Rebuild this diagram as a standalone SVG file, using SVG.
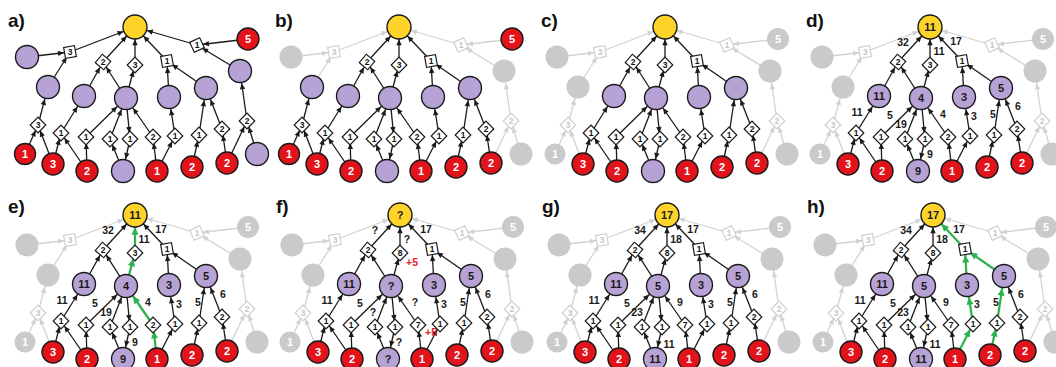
<svg xmlns="http://www.w3.org/2000/svg" width="1056" height="367" viewBox="0 0 1056 367">
<defs>
<style>
text{font-family:"Liberation Sans",Arial,sans-serif}
.pl{font-size:19px;font-weight:bold;fill:#111}
.tw{font-size:11px;font-weight:bold;fill:#fff;text-anchor:middle}
.tk{font-size:11px;font-weight:bold;fill:#1a1a1a;text-anchor:middle}
.td{font-size:8.5px;font-weight:bold;fill:#111;text-anchor:middle}
.tg{font-size:8.5px;font-weight:bold;fill:#c6c6c6;text-anchor:middle}
.lb{font-size:10.5px;font-weight:bold;fill:#1a1a1a;text-anchor:middle}
.lr{font-size:10.5px;font-weight:bold;fill:#e8202a;text-anchor:middle}
.y{fill:#ffd42a;stroke:#1a1a1a;stroke-width:1.4}
.p{fill:#b7a2d6;stroke:#1a1a1a;stroke-width:1.4}
.r{fill:#e2131b;stroke:#1a1a1a;stroke-width:1.4}
.x{fill:#cacaca}
.dk{fill:#fff;stroke:#1a1a1a;stroke-width:1.2}
.dg{fill:#fff;stroke:#cfcfcf;stroke-width:1.2}
.kc,.kd{stroke:#1a1a1a;stroke-width:1.3}
.gc,.gd{stroke:#d2d2d2;stroke-width:1.3}
.vc,.vd{stroke:#2bb24c;stroke-width:2.2}
.kc{marker-end:url(#mkc)}.kd{marker-end:url(#mkd)}
.gc{marker-end:url(#mgc)}.gd{marker-end:url(#mgd)}
.vc{marker-end:url(#mvc)}.vd{marker-end:url(#mvd)}
</style>
<marker id="mkc" viewBox="-20 -4 20 8" refX="0" refY="0" markerWidth="20" markerHeight="8" markerUnits="userSpaceOnUse" orient="auto"><path d="M-18.3,-2.7L-12.3,0L-18.3,2.7z" fill="#1a1a1a"/></marker>
<marker id="mkd" viewBox="-14 -4 14 8" refX="0" refY="0" markerWidth="14" markerHeight="8" markerUnits="userSpaceOnUse" orient="auto"><path d="M-12,-2.7L-6,0L-12,2.7z" fill="#1a1a1a"/></marker>
<marker id="mgc" viewBox="-20 -4 20 8" refX="0" refY="0" markerWidth="20" markerHeight="8" markerUnits="userSpaceOnUse" orient="auto"><path d="M-18.3,-2.7L-12.3,0L-18.3,2.7z" fill="#d2d2d2"/></marker>
<marker id="mgd" viewBox="-14 -4 14 8" refX="0" refY="0" markerWidth="14" markerHeight="8" markerUnits="userSpaceOnUse" orient="auto"><path d="M-12,-2.7L-6,0L-12,2.7z" fill="#d2d2d2"/></marker>
<marker id="mvc" viewBox="-21 -5 21 10" refX="0" refY="0" markerWidth="21" markerHeight="10" markerUnits="userSpaceOnUse" orient="auto"><path d="M-19.8,-3.5L-12.3,0L-19.8,3.5z" fill="#2bb24c"/></marker>
<marker id="mvd" viewBox="-15 -5 15 10" refX="0" refY="0" markerWidth="15" markerHeight="10" markerUnits="userSpaceOnUse" orient="auto"><path d="M-13.5,-3.5L-6,0L-13.5,3.5z" fill="#2bb24c"/></marker>
</defs>
<rect width="1056" height="367" fill="#fff"/>

<!-- PANEL A -->
<g id="panel-a" transform="translate(0,0)">
<text class="pl" x="8" y="27">a)</text>
<g id="a-connectors">
<line class="kd" x1="27" y1="57" x2="70" y2="52"/>
<line class="kd" x1="48" y1="87" x2="70" y2="52"/>
<line class="kc" x1="70" y1="52" x2="135" y2="27"/>
<line class="kd" x1="84" y1="96" x2="103" y2="62"/>
<line class="kd" x1="126" y1="98" x2="103" y2="62"/>
<line class="kc" x1="103" y1="62" x2="135" y2="27"/>
<line class="kd" x1="126" y1="98" x2="135" y2="65"/>
<line class="kc" x1="135" y1="65" x2="135" y2="27"/>
<line class="kd" x1="169" y1="97" x2="167" y2="61"/>
<line class="kd" x1="206" y1="88" x2="167" y2="61"/>
<line class="kc" x1="167" y1="61" x2="135" y2="27"/>
<line class="kd" x1="248" y1="39" x2="197" y2="45"/>
<line class="kd" x1="240" y1="71" x2="197" y2="45"/>
<line class="kc" x1="197" y1="45" x2="135" y2="27"/>
<line class="kd" x1="25" y1="154" x2="38" y2="125"/>
<line class="kd" x1="53" y1="164" x2="38" y2="125"/>
<line class="kc" x1="38" y1="125" x2="48" y2="87"/>
<line class="kd" x1="53" y1="164" x2="61" y2="133"/>
<line class="kd" x1="87" y1="171" x2="61" y2="133"/>
<line class="kc" x1="61" y1="133" x2="84" y2="96"/>
<line class="kd" x1="87" y1="171" x2="86" y2="137"/>
<line class="kc" x1="86" y1="137" x2="126" y2="98"/>
<line class="kd" x1="123" y1="171" x2="110" y2="139"/>
<line class="kc" x1="110" y1="139" x2="126" y2="98"/>
<line class="kd" x1="126" y1="98" x2="130" y2="139"/>
<line class="kc" x1="130" y1="139" x2="123" y2="171"/>
<line class="kd" x1="157" y1="171" x2="153" y2="137"/>
<line class="kc" x1="153" y1="137" x2="126" y2="98"/>
<line class="kd" x1="157" y1="171" x2="175" y2="136"/>
<line class="kc" x1="175" y1="136" x2="169" y2="97"/>
<line class="kd" x1="192" y1="167" x2="199" y2="135"/>
<line class="kc" x1="199" y1="135" x2="206" y2="88"/>
<line class="kd" x1="227" y1="163" x2="222" y2="129"/>
<line class="kc" x1="222" y1="129" x2="206" y2="88"/>
<line class="kd" x1="227" y1="163" x2="247" y2="121"/>
<line class="kd" x1="257" y1="154" x2="247" y2="121"/>
<line class="kc" x1="247" y1="121" x2="240" y2="71"/>
</g>
<g id="a-Y"><circle class="y" cx="135" cy="27" r="12"/></g>
<g id="a-P1"><circle class="p" cx="27" cy="57" r="11.5"/></g>
<g id="a-P2"><circle class="p" cx="48" cy="87" r="11.5"/></g>
<g id="a-P3"><circle class="p" cx="84" cy="96" r="11.5"/></g>
<g id="a-P4"><circle class="p" cx="126" cy="98" r="11.5"/></g>
<g id="a-P5"><circle class="p" cx="169" cy="97" r="11.5"/></g>
<g id="a-P6"><circle class="p" cx="206" cy="88" r="11.5"/></g>
<g id="a-P7"><circle class="p" cx="240" cy="71" r="11.5"/></g>
<g id="a-R5"><circle class="r" cx="248" cy="39" r="11"/><text class="tw" x="248" y="43">5</text></g>
<g id="a-B1"><circle class="r" cx="25" cy="154" r="10.5"/><text class="tw" x="25" y="158">1</text></g>
<g id="a-B2"><circle class="r" cx="53" cy="164" r="11"/><text class="tw" x="53" y="168">3</text></g>
<g id="a-B3"><circle class="r" cx="87" cy="171" r="11"/><text class="tw" x="87" y="175">2</text></g>
<g id="a-B4"><circle class="p" cx="123" cy="171" r="11.5"/></g>
<g id="a-B5"><circle class="r" cx="157" cy="171" r="11"/><text class="tw" x="157" y="175">1</text></g>
<g id="a-B6"><circle class="r" cx="192" cy="167" r="11"/><text class="tw" x="192" y="171">2</text></g>
<g id="a-B7"><circle class="r" cx="227" cy="163" r="11"/><text class="tw" x="227" y="167">2</text></g>
<g id="a-B8"><circle class="p" cx="257" cy="154" r="11.5"/></g>
<g id="a-D1"><rect class="dk" x="-5.5" y="-5.5" width="11" height="11" transform="translate(70,52) rotate(-10)"/><text class="td" x="70" y="55">3</text></g>
<g id="a-D2"><rect class="dk" x="-5.5" y="-5.5" width="11" height="11" transform="translate(103,62) rotate(40)"/><text class="td" x="103" y="65">2</text></g>
<g id="a-D3"><rect class="dk" x="-5.5" y="-5.5" width="11" height="11" transform="translate(135,65) rotate(45)"/><text class="td" x="135" y="68">3</text></g>
<g id="a-D4"><rect class="dk" x="-5.5" y="-5.5" width="11" height="11" transform="translate(167,61) rotate(-10)"/><text class="td" x="167" y="64">1</text></g>
<g id="a-D5"><rect class="dk" x="-5.5" y="-5.5" width="11" height="11" transform="translate(197,45) rotate(-25)"/><text class="td" x="197" y="48">1</text></g>
<g id="a-D6"><rect class="dk" x="-5.5" y="-5.5" width="11" height="11" transform="translate(38,125) rotate(45)"/><text class="td" x="38" y="128">3</text></g>
<g id="a-D7"><rect class="dk" x="-5.5" y="-5.5" width="11" height="11" transform="translate(61,133) rotate(45)"/><text class="td" x="61" y="136">1</text></g>
<g id="a-D8"><rect class="dk" x="-5.5" y="-5.5" width="11" height="11" transform="translate(86,137) rotate(45)"/><text class="td" x="86" y="140">1</text></g>
<g id="a-D9"><rect class="dk" x="-5.5" y="-5.5" width="11" height="11" transform="translate(110,139) rotate(45)"/><text class="td" x="110" y="142">1</text></g>
<g id="a-D10"><rect class="dk" x="-5.5" y="-5.5" width="11" height="11" transform="translate(130,139) rotate(45)"/><text class="td" x="130" y="142">1</text></g>
<g id="a-D11"><rect class="dk" x="-5.5" y="-5.5" width="11" height="11" transform="translate(153,137) rotate(45)"/><text class="td" x="153" y="140">2</text></g>
<g id="a-D12"><rect class="dk" x="-5.5" y="-5.5" width="11" height="11" transform="translate(175,136) rotate(45)"/><text class="td" x="175" y="139">1</text></g>
<g id="a-D13"><rect class="dk" x="-5.5" y="-5.5" width="11" height="11" transform="translate(199,135) rotate(45)"/><text class="td" x="199" y="138">1</text></g>
<g id="a-D14"><rect class="dk" x="-5.5" y="-5.5" width="11" height="11" transform="translate(222,129) rotate(45)"/><text class="td" x="222" y="132">2</text></g>
<g id="a-D15"><rect class="dk" x="-5.5" y="-5.5" width="11" height="11" transform="translate(247,121) rotate(45)"/><text class="td" x="247" y="124">2</text></g>
</g>

<!-- PANEL B -->
<g id="panel-b" transform="translate(264,0)">
<text class="pl" x="11" y="27">b)</text>
<g id="b-connectors">
<line class="gd" x1="27" y1="57" x2="70" y2="52"/>
<line class="gd" x1="48" y1="87" x2="70" y2="52"/>
<line class="gc" x1="70" y1="52" x2="135" y2="27"/>
<line class="gd" x1="248" y1="39" x2="197" y2="45"/>
<line class="gd" x1="240" y1="71" x2="197" y2="45"/>
<line class="gc" x1="197" y1="45" x2="135" y2="27"/>
<line class="gd" x1="227" y1="163" x2="247" y2="121"/>
<line class="gd" x1="257" y1="154" x2="247" y2="121"/>
<line class="gc" x1="247" y1="121" x2="240" y2="71"/>
<line class="kd" x1="84" y1="96" x2="103" y2="62"/>
<line class="kd" x1="126" y1="98" x2="103" y2="62"/>
<line class="kc" x1="103" y1="62" x2="135" y2="27"/>
<line class="kd" x1="126" y1="98" x2="135" y2="65"/>
<line class="kc" x1="135" y1="65" x2="135" y2="27"/>
<line class="kd" x1="169" y1="97" x2="167" y2="61"/>
<line class="kd" x1="206" y1="88" x2="167" y2="61"/>
<line class="kc" x1="167" y1="61" x2="135" y2="27"/>
<line class="kd" x1="25" y1="154" x2="38" y2="125"/>
<line class="kd" x1="53" y1="164" x2="38" y2="125"/>
<line class="kc" x1="38" y1="125" x2="48" y2="87"/>
<line class="kd" x1="53" y1="164" x2="61" y2="133"/>
<line class="kd" x1="87" y1="171" x2="61" y2="133"/>
<line class="kc" x1="61" y1="133" x2="84" y2="96"/>
<line class="kd" x1="87" y1="171" x2="86" y2="137"/>
<line class="kc" x1="86" y1="137" x2="126" y2="98"/>
<line class="kd" x1="123" y1="171" x2="110" y2="139"/>
<line class="kc" x1="110" y1="139" x2="126" y2="98"/>
<line class="kd" x1="126" y1="98" x2="130" y2="139"/>
<line class="kc" x1="130" y1="139" x2="123" y2="171"/>
<line class="kd" x1="157" y1="171" x2="153" y2="137"/>
<line class="kc" x1="153" y1="137" x2="126" y2="98"/>
<line class="kd" x1="157" y1="171" x2="175" y2="136"/>
<line class="kc" x1="175" y1="136" x2="169" y2="97"/>
<line class="kd" x1="192" y1="167" x2="199" y2="135"/>
<line class="kc" x1="199" y1="135" x2="206" y2="88"/>
<line class="kd" x1="227" y1="163" x2="222" y2="129"/>
<line class="kc" x1="222" y1="129" x2="206" y2="88"/>
</g>
<g id="b-Y"><circle class="y" cx="135" cy="27" r="12"/></g>
<g id="b-P1"><circle class="x" cx="27" cy="57" r="11.5"/></g>
<g id="b-P2"><circle class="p" cx="48" cy="87" r="11.5"/></g>
<g id="b-P3"><circle class="p" cx="84" cy="96" r="11.5"/></g>
<g id="b-P4"><circle class="p" cx="126" cy="98" r="11.5"/></g>
<g id="b-P5"><circle class="p" cx="169" cy="97" r="11.5"/></g>
<g id="b-P6"><circle class="p" cx="206" cy="88" r="11.5"/></g>
<g id="b-P7"><circle class="x" cx="240" cy="71" r="11.5"/></g>
<g id="b-R5"><circle class="r" cx="248" cy="39" r="11"/><text class="tw" x="248" y="43">5</text></g>
<g id="b-B1"><circle class="r" cx="25" cy="154" r="10.5"/><text class="tw" x="25" y="158">1</text></g>
<g id="b-B2"><circle class="r" cx="53" cy="164" r="11"/><text class="tw" x="53" y="168">3</text></g>
<g id="b-B3"><circle class="r" cx="87" cy="171" r="11"/><text class="tw" x="87" y="175">2</text></g>
<g id="b-B4"><circle class="p" cx="123" cy="171" r="11.5"/></g>
<g id="b-B5"><circle class="r" cx="157" cy="171" r="11"/><text class="tw" x="157" y="175">1</text></g>
<g id="b-B6"><circle class="r" cx="192" cy="167" r="11"/><text class="tw" x="192" y="171">2</text></g>
<g id="b-B7"><circle class="r" cx="227" cy="163" r="11"/><text class="tw" x="227" y="167">2</text></g>
<g id="b-B8"><circle class="x" cx="257" cy="154" r="11.5"/></g>
<g id="b-D1"><rect class="dg" x="-5.5" y="-5.5" width="11" height="11" transform="translate(70,52) rotate(-10)"/><text class="tg" x="70" y="55">3</text></g>
<g id="b-D2"><rect class="dk" x="-5.5" y="-5.5" width="11" height="11" transform="translate(103,62) rotate(40)"/><text class="td" x="103" y="65">2</text></g>
<g id="b-D3"><rect class="dk" x="-5.5" y="-5.5" width="11" height="11" transform="translate(135,65) rotate(45)"/><text class="td" x="135" y="68">3</text></g>
<g id="b-D4"><rect class="dk" x="-5.5" y="-5.5" width="11" height="11" transform="translate(167,61) rotate(-10)"/><text class="td" x="167" y="64">1</text></g>
<g id="b-D5"><rect class="dg" x="-5.5" y="-5.5" width="11" height="11" transform="translate(197,45) rotate(-25)"/><text class="tg" x="197" y="48">1</text></g>
<g id="b-D6"><rect class="dk" x="-5.5" y="-5.5" width="11" height="11" transform="translate(38,125) rotate(45)"/><text class="td" x="38" y="128">3</text></g>
<g id="b-D7"><rect class="dk" x="-5.5" y="-5.5" width="11" height="11" transform="translate(61,133) rotate(45)"/><text class="td" x="61" y="136">1</text></g>
<g id="b-D8"><rect class="dk" x="-5.5" y="-5.5" width="11" height="11" transform="translate(86,137) rotate(45)"/><text class="td" x="86" y="140">1</text></g>
<g id="b-D9"><rect class="dk" x="-5.5" y="-5.5" width="11" height="11" transform="translate(110,139) rotate(45)"/><text class="td" x="110" y="142">1</text></g>
<g id="b-D10"><rect class="dk" x="-5.5" y="-5.5" width="11" height="11" transform="translate(130,139) rotate(45)"/><text class="td" x="130" y="142">1</text></g>
<g id="b-D11"><rect class="dk" x="-5.5" y="-5.5" width="11" height="11" transform="translate(153,137) rotate(45)"/><text class="td" x="153" y="140">2</text></g>
<g id="b-D12"><rect class="dk" x="-5.5" y="-5.5" width="11" height="11" transform="translate(175,136) rotate(45)"/><text class="td" x="175" y="139">1</text></g>
<g id="b-D13"><rect class="dk" x="-5.5" y="-5.5" width="11" height="11" transform="translate(199,135) rotate(45)"/><text class="td" x="199" y="138">1</text></g>
<g id="b-D14"><rect class="dk" x="-5.5" y="-5.5" width="11" height="11" transform="translate(222,129) rotate(45)"/><text class="td" x="222" y="132">2</text></g>
<g id="b-D15"><rect class="dg" x="-5.5" y="-5.5" width="11" height="11" transform="translate(247,121) rotate(45)"/><text class="tg" x="247" y="124">2</text></g>
</g>

<!-- PANEL C -->
<g id="panel-c" transform="translate(530,0)">
<text class="pl" x="11" y="27">c)</text>
<g id="c-connectors">
<line class="gd" x1="27" y1="57" x2="70" y2="52"/>
<line class="gd" x1="48" y1="87" x2="70" y2="52"/>
<line class="gc" x1="70" y1="52" x2="135" y2="27"/>
<line class="gd" x1="248" y1="39" x2="197" y2="45"/>
<line class="gd" x1="240" y1="71" x2="197" y2="45"/>
<line class="gc" x1="197" y1="45" x2="135" y2="27"/>
<line class="gd" x1="227" y1="163" x2="247" y2="121"/>
<line class="gd" x1="257" y1="154" x2="247" y2="121"/>
<line class="gc" x1="247" y1="121" x2="240" y2="71"/>
<line class="gd" x1="25" y1="154" x2="38" y2="125"/>
<line class="gd" x1="53" y1="164" x2="38" y2="125"/>
<line class="gc" x1="38" y1="125" x2="48" y2="87"/>
<line class="kd" x1="84" y1="96" x2="103" y2="62"/>
<line class="kd" x1="126" y1="98" x2="103" y2="62"/>
<line class="kc" x1="103" y1="62" x2="135" y2="27"/>
<line class="kd" x1="126" y1="98" x2="135" y2="65"/>
<line class="kc" x1="135" y1="65" x2="135" y2="27"/>
<line class="kd" x1="169" y1="97" x2="167" y2="61"/>
<line class="kd" x1="206" y1="88" x2="167" y2="61"/>
<line class="kc" x1="167" y1="61" x2="135" y2="27"/>
<line class="kd" x1="53" y1="164" x2="61" y2="133"/>
<line class="kd" x1="87" y1="171" x2="61" y2="133"/>
<line class="kc" x1="61" y1="133" x2="84" y2="96"/>
<line class="kd" x1="87" y1="171" x2="86" y2="137"/>
<line class="kc" x1="86" y1="137" x2="126" y2="98"/>
<line class="kd" x1="123" y1="171" x2="110" y2="139"/>
<line class="kc" x1="110" y1="139" x2="126" y2="98"/>
<line class="kd" x1="126" y1="98" x2="130" y2="139"/>
<line class="kc" x1="130" y1="139" x2="123" y2="171"/>
<line class="kd" x1="157" y1="171" x2="153" y2="137"/>
<line class="kc" x1="153" y1="137" x2="126" y2="98"/>
<line class="kd" x1="157" y1="171" x2="175" y2="136"/>
<line class="kc" x1="175" y1="136" x2="169" y2="97"/>
<line class="kd" x1="192" y1="167" x2="199" y2="135"/>
<line class="kc" x1="199" y1="135" x2="206" y2="88"/>
<line class="kd" x1="227" y1="163" x2="222" y2="129"/>
<line class="kc" x1="222" y1="129" x2="206" y2="88"/>
</g>
<g id="c-Y"><circle class="y" cx="135" cy="27" r="12"/></g>
<g id="c-P1"><circle class="x" cx="27" cy="57" r="11.5"/></g>
<g id="c-P2"><circle class="x" cx="48" cy="87" r="11.5"/></g>
<g id="c-P3"><circle class="p" cx="84" cy="96" r="11.5"/></g>
<g id="c-P4"><circle class="p" cx="126" cy="98" r="11.5"/></g>
<g id="c-P5"><circle class="p" cx="169" cy="97" r="11.5"/></g>
<g id="c-P6"><circle class="p" cx="206" cy="88" r="11.5"/></g>
<g id="c-P7"><circle class="x" cx="240" cy="71" r="11.5"/></g>
<g id="c-R5"><circle class="x" cx="248" cy="39" r="11"/><text class="tw" x="248" y="43">5</text></g>
<g id="c-B1"><circle class="x" cx="25" cy="154" r="10.5"/><text class="tw" x="25" y="158">1</text></g>
<g id="c-B2"><circle class="r" cx="53" cy="164" r="11"/><text class="tw" x="53" y="168">3</text></g>
<g id="c-B3"><circle class="r" cx="87" cy="171" r="11"/><text class="tw" x="87" y="175">2</text></g>
<g id="c-B4"><circle class="p" cx="123" cy="171" r="11.5"/></g>
<g id="c-B5"><circle class="r" cx="157" cy="171" r="11"/><text class="tw" x="157" y="175">1</text></g>
<g id="c-B6"><circle class="r" cx="192" cy="167" r="11"/><text class="tw" x="192" y="171">2</text></g>
<g id="c-B7"><circle class="r" cx="227" cy="163" r="11"/><text class="tw" x="227" y="167">2</text></g>
<g id="c-B8"><circle class="x" cx="257" cy="154" r="11.5"/></g>
<g id="c-D1"><rect class="dg" x="-5.5" y="-5.5" width="11" height="11" transform="translate(70,52) rotate(-10)"/><text class="tg" x="70" y="55">3</text></g>
<g id="c-D2"><rect class="dk" x="-5.5" y="-5.5" width="11" height="11" transform="translate(103,62) rotate(40)"/><text class="td" x="103" y="65">2</text></g>
<g id="c-D3"><rect class="dk" x="-5.5" y="-5.5" width="11" height="11" transform="translate(135,65) rotate(45)"/><text class="td" x="135" y="68">3</text></g>
<g id="c-D4"><rect class="dk" x="-5.5" y="-5.5" width="11" height="11" transform="translate(167,61) rotate(-10)"/><text class="td" x="167" y="64">1</text></g>
<g id="c-D5"><rect class="dg" x="-5.5" y="-5.5" width="11" height="11" transform="translate(197,45) rotate(-25)"/><text class="tg" x="197" y="48">1</text></g>
<g id="c-D6"><rect class="dg" x="-5.5" y="-5.5" width="11" height="11" transform="translate(38,125) rotate(45)"/><text class="tg" x="38" y="128">3</text></g>
<g id="c-D7"><rect class="dk" x="-5.5" y="-5.5" width="11" height="11" transform="translate(61,133) rotate(45)"/><text class="td" x="61" y="136">1</text></g>
<g id="c-D8"><rect class="dk" x="-5.5" y="-5.5" width="11" height="11" transform="translate(86,137) rotate(45)"/><text class="td" x="86" y="140">1</text></g>
<g id="c-D9"><rect class="dk" x="-5.5" y="-5.5" width="11" height="11" transform="translate(110,139) rotate(45)"/><text class="td" x="110" y="142">1</text></g>
<g id="c-D10"><rect class="dk" x="-5.5" y="-5.5" width="11" height="11" transform="translate(130,139) rotate(45)"/><text class="td" x="130" y="142">1</text></g>
<g id="c-D11"><rect class="dk" x="-5.5" y="-5.5" width="11" height="11" transform="translate(153,137) rotate(45)"/><text class="td" x="153" y="140">2</text></g>
<g id="c-D12"><rect class="dk" x="-5.5" y="-5.5" width="11" height="11" transform="translate(175,136) rotate(45)"/><text class="td" x="175" y="139">1</text></g>
<g id="c-D13"><rect class="dk" x="-5.5" y="-5.5" width="11" height="11" transform="translate(199,135) rotate(45)"/><text class="td" x="199" y="138">1</text></g>
<g id="c-D14"><rect class="dk" x="-5.5" y="-5.5" width="11" height="11" transform="translate(222,129) rotate(45)"/><text class="td" x="222" y="132">2</text></g>
<g id="c-D15"><rect class="dg" x="-5.5" y="-5.5" width="11" height="11" transform="translate(247,121) rotate(45)"/><text class="tg" x="247" y="124">2</text></g>
</g>

<!-- PANEL D -->
<g id="panel-d" transform="translate(795,0)">
<text class="pl" x="11" y="27">d)</text>
<g id="d-connectors">
<line class="gd" x1="27" y1="57" x2="70" y2="52"/>
<line class="gd" x1="48" y1="87" x2="70" y2="52"/>
<line class="gc" x1="70" y1="52" x2="135" y2="27"/>
<line class="gd" x1="248" y1="39" x2="197" y2="45"/>
<line class="gd" x1="240" y1="71" x2="197" y2="45"/>
<line class="gc" x1="197" y1="45" x2="135" y2="27"/>
<line class="gd" x1="227" y1="163" x2="247" y2="121"/>
<line class="gd" x1="257" y1="154" x2="247" y2="121"/>
<line class="gc" x1="247" y1="121" x2="240" y2="71"/>
<line class="gd" x1="25" y1="154" x2="38" y2="125"/>
<line class="gd" x1="53" y1="164" x2="38" y2="125"/>
<line class="gc" x1="38" y1="125" x2="48" y2="87"/>
<line class="kd" x1="84" y1="96" x2="103" y2="62"/>
<line class="kd" x1="126" y1="98" x2="103" y2="62"/>
<line class="kc" x1="103" y1="62" x2="135" y2="27"/>
<line class="kd" x1="126" y1="98" x2="135" y2="65"/>
<line class="kc" x1="135" y1="65" x2="135" y2="27"/>
<line class="kd" x1="169" y1="97" x2="167" y2="61"/>
<line class="kd" x1="206" y1="88" x2="167" y2="61"/>
<line class="kc" x1="167" y1="61" x2="135" y2="27"/>
<line class="kd" x1="53" y1="164" x2="61" y2="133"/>
<line class="kd" x1="87" y1="171" x2="61" y2="133"/>
<line class="kc" x1="61" y1="133" x2="84" y2="96"/>
<line class="kd" x1="87" y1="171" x2="86" y2="137"/>
<line class="kc" x1="86" y1="137" x2="126" y2="98"/>
<line class="kd" x1="123" y1="171" x2="110" y2="139"/>
<line class="kc" x1="110" y1="139" x2="126" y2="98"/>
<line class="kd" x1="126" y1="98" x2="130" y2="139"/>
<line class="kc" x1="130" y1="139" x2="123" y2="171"/>
<line class="kd" x1="157" y1="171" x2="153" y2="137"/>
<line class="kc" x1="153" y1="137" x2="126" y2="98"/>
<line class="kd" x1="157" y1="171" x2="175" y2="136"/>
<line class="kc" x1="175" y1="136" x2="169" y2="97"/>
<line class="kd" x1="192" y1="167" x2="199" y2="135"/>
<line class="kc" x1="199" y1="135" x2="206" y2="88"/>
<line class="kd" x1="227" y1="163" x2="222" y2="129"/>
<line class="kc" x1="222" y1="129" x2="206" y2="88"/>
</g>
<g id="d-labels">
<text class="lb" x="108" y="46">32</text><text class="lb" x="144" y="55">11</text><text class="lb" x="161" y="45">17</text>
<text class="lb" x="62" y="116">11</text><text class="lb" x="95" y="119">5</text><text class="lb" x="106" y="128">19</text>
<text class="lb" x="135" y="158">9</text><text class="lb" x="148" y="118">4</text><text class="lb" x="179" y="120">3</text>
<text class="lb" x="198" y="118">5</text><text class="lb" x="223" y="110">6</text>
</g>
<g id="d-Y"><circle class="y" cx="135" cy="27" r="12"/><text class="tk" x="135" y="31">11</text></g>
<g id="d-P1"><circle class="x" cx="27" cy="57" r="11.5"/></g>
<g id="d-P2"><circle class="x" cx="48" cy="87" r="11.5"/></g>
<g id="d-P3"><circle class="p" cx="84" cy="96" r="11.5"/><text class="tk" x="84" y="100">11</text></g>
<g id="d-P4"><circle class="p" cx="126" cy="98" r="11.5"/><text class="tk" x="126" y="102">4</text></g>
<g id="d-P5"><circle class="p" cx="169" cy="97" r="11.5"/><text class="tk" x="169" y="101">3</text></g>
<g id="d-P6"><circle class="p" cx="206" cy="88" r="11.5"/><text class="tk" x="206" y="92">5</text></g>
<g id="d-P7"><circle class="x" cx="240" cy="71" r="11.5"/></g>
<g id="d-R5"><circle class="x" cx="248" cy="39" r="11"/><text class="tw" x="248" y="43">5</text></g>
<g id="d-B1"><circle class="x" cx="25" cy="154" r="10.5"/><text class="tw" x="25" y="158">1</text></g>
<g id="d-B2"><circle class="r" cx="53" cy="164" r="11"/><text class="tw" x="53" y="168">3</text></g>
<g id="d-B3"><circle class="r" cx="87" cy="171" r="11"/><text class="tw" x="87" y="175">2</text></g>
<g id="d-B4"><circle class="p" cx="123" cy="171" r="11.5"/><text class="tk" x="123" y="175">9</text></g>
<g id="d-B5"><circle class="r" cx="157" cy="171" r="11"/><text class="tw" x="157" y="175">1</text></g>
<g id="d-B6"><circle class="r" cx="192" cy="167" r="11"/><text class="tw" x="192" y="171">2</text></g>
<g id="d-B7"><circle class="r" cx="227" cy="163" r="11"/><text class="tw" x="227" y="167">2</text></g>
<g id="d-B8"><circle class="x" cx="257" cy="154" r="11.5"/></g>
<g id="d-D1"><rect class="dg" x="-5.5" y="-5.5" width="11" height="11" transform="translate(70,52) rotate(-10)"/><text class="tg" x="70" y="55">3</text></g>
<g id="d-D2"><rect class="dk" x="-5.5" y="-5.5" width="11" height="11" transform="translate(103,62) rotate(40)"/><text class="td" x="103" y="65">2</text></g>
<g id="d-D3"><rect class="dk" x="-5.5" y="-5.5" width="11" height="11" transform="translate(135,65) rotate(45)"/><text class="td" x="135" y="68">3</text></g>
<g id="d-D4"><rect class="dk" x="-5.5" y="-5.5" width="11" height="11" transform="translate(167,61) rotate(-10)"/><text class="td" x="167" y="64">1</text></g>
<g id="d-D5"><rect class="dg" x="-5.5" y="-5.5" width="11" height="11" transform="translate(197,45) rotate(-25)"/><text class="tg" x="197" y="48">1</text></g>
<g id="d-D6"><rect class="dg" x="-5.5" y="-5.5" width="11" height="11" transform="translate(38,125) rotate(45)"/><text class="tg" x="38" y="128">3</text></g>
<g id="d-D7"><rect class="dk" x="-5.5" y="-5.5" width="11" height="11" transform="translate(61,133) rotate(45)"/><text class="td" x="61" y="136">1</text></g>
<g id="d-D8"><rect class="dk" x="-5.5" y="-5.5" width="11" height="11" transform="translate(86,137) rotate(45)"/><text class="td" x="86" y="140">1</text></g>
<g id="d-D9"><rect class="dk" x="-5.5" y="-5.5" width="11" height="11" transform="translate(110,139) rotate(45)"/><text class="td" x="110" y="142">1</text></g>
<g id="d-D10"><rect class="dk" x="-5.5" y="-5.5" width="11" height="11" transform="translate(130,139) rotate(45)"/><text class="td" x="130" y="142">1</text></g>
<g id="d-D11"><rect class="dk" x="-5.5" y="-5.5" width="11" height="11" transform="translate(153,137) rotate(45)"/><text class="td" x="153" y="140">2</text></g>
<g id="d-D12"><rect class="dk" x="-5.5" y="-5.5" width="11" height="11" transform="translate(175,136) rotate(45)"/><text class="td" x="175" y="139">1</text></g>
<g id="d-D13"><rect class="dk" x="-5.5" y="-5.5" width="11" height="11" transform="translate(199,135) rotate(45)"/><text class="td" x="199" y="138">1</text></g>
<g id="d-D14"><rect class="dk" x="-5.5" y="-5.5" width="11" height="11" transform="translate(222,129) rotate(45)"/><text class="td" x="222" y="132">2</text></g>
<g id="d-D15"><rect class="dg" x="-5.5" y="-5.5" width="11" height="11" transform="translate(247,121) rotate(45)"/><text class="tg" x="247" y="124">2</text></g>
</g>

<!-- PANEL E -->
<g id="panel-e" transform="translate(0,188)">
<text class="pl" x="8" y="25">e)</text>
<g id="e-connectors">
<line class="gd" x1="27" y1="57" x2="70" y2="52"/>
<line class="gd" x1="48" y1="87" x2="70" y2="52"/>
<line class="gc" x1="70" y1="52" x2="135" y2="27"/>
<line class="gd" x1="248" y1="39" x2="197" y2="45"/>
<line class="gd" x1="240" y1="71" x2="197" y2="45"/>
<line class="gc" x1="197" y1="45" x2="135" y2="27"/>
<line class="gd" x1="227" y1="163" x2="247" y2="121"/>
<line class="gd" x1="257" y1="154" x2="247" y2="121"/>
<line class="gc" x1="247" y1="121" x2="240" y2="71"/>
<line class="gd" x1="25" y1="154" x2="38" y2="125"/>
<line class="gd" x1="53" y1="164" x2="38" y2="125"/>
<line class="gc" x1="38" y1="125" x2="48" y2="87"/>
<line class="kd" x1="84" y1="96" x2="103" y2="62"/>
<line class="kd" x1="126" y1="98" x2="103" y2="62"/>
<line class="kc" x1="103" y1="62" x2="135" y2="27"/>
<line class="kd" x1="169" y1="97" x2="167" y2="61"/>
<line class="kd" x1="206" y1="88" x2="167" y2="61"/>
<line class="kc" x1="167" y1="61" x2="135" y2="27"/>
<line class="kd" x1="53" y1="164" x2="61" y2="133"/>
<line class="kd" x1="87" y1="171" x2="61" y2="133"/>
<line class="kc" x1="61" y1="133" x2="84" y2="96"/>
<line class="kd" x1="87" y1="171" x2="86" y2="137"/>
<line class="kc" x1="86" y1="137" x2="126" y2="98"/>
<line class="kd" x1="123" y1="171" x2="110" y2="139"/>
<line class="kc" x1="110" y1="139" x2="126" y2="98"/>
<line class="kd" x1="126" y1="98" x2="130" y2="139"/>
<line class="kc" x1="130" y1="139" x2="123" y2="171"/>
<line class="kd" x1="157" y1="171" x2="175" y2="136"/>
<line class="kc" x1="175" y1="136" x2="169" y2="97"/>
<line class="kd" x1="192" y1="167" x2="199" y2="135"/>
<line class="kc" x1="199" y1="135" x2="206" y2="88"/>
<line class="kd" x1="227" y1="163" x2="222" y2="129"/>
<line class="kc" x1="222" y1="129" x2="206" y2="88"/>
<line class="vd" x1="126" y1="98" x2="135" y2="65"/>
<line class="vc" x1="135" y1="65" x2="135" y2="27"/>
<line class="vd" x1="157" y1="171" x2="153" y2="137"/>
<line class="vc" x1="153" y1="137" x2="126" y2="98"/>
</g>
<g id="e-labels">
<text class="lb" x="108" y="46">32</text><text class="lb" x="144" y="55">11</text><text class="lb" x="161" y="45">17</text>
<text class="lb" x="62" y="116">11</text><text class="lb" x="95" y="119">5</text><text class="lb" x="106" y="128">19</text>
<text class="lb" x="135" y="158">9</text><text class="lb" x="148" y="118">4</text><text class="lb" x="179" y="120">3</text>
<text class="lb" x="198" y="118">5</text><text class="lb" x="223" y="110">6</text>
</g>
<g id="e-Y"><circle class="y" cx="135" cy="27" r="12"/><text class="tk" x="135" y="31">11</text></g>
<g id="e-P1"><circle class="x" cx="27" cy="57" r="11.5"/></g>
<g id="e-P2"><circle class="x" cx="48" cy="87" r="11.5"/></g>
<g id="e-P3"><circle class="p" cx="84" cy="96" r="11.5"/><text class="tk" x="84" y="100">11</text></g>
<g id="e-P4"><circle class="p" cx="126" cy="98" r="11.5"/><text class="tk" x="126" y="102">4</text></g>
<g id="e-P5"><circle class="p" cx="169" cy="97" r="11.5"/><text class="tk" x="169" y="101">3</text></g>
<g id="e-P6"><circle class="p" cx="206" cy="88" r="11.5"/><text class="tk" x="206" y="92">5</text></g>
<g id="e-P7"><circle class="x" cx="240" cy="71" r="11.5"/></g>
<g id="e-R5"><circle class="x" cx="248" cy="39" r="11"/><text class="tw" x="248" y="43">5</text></g>
<g id="e-B1"><circle class="x" cx="25" cy="154" r="10.5"/><text class="tw" x="25" y="158">1</text></g>
<g id="e-B2"><circle class="r" cx="53" cy="164" r="11"/><text class="tw" x="53" y="168">3</text></g>
<g id="e-B3"><circle class="r" cx="87" cy="171" r="11"/><text class="tw" x="87" y="175">2</text></g>
<g id="e-B4"><circle class="p" cx="123" cy="171" r="11.5"/><text class="tk" x="123" y="175">9</text></g>
<g id="e-B5"><circle class="r" cx="157" cy="171" r="11"/><text class="tw" x="157" y="175">1</text></g>
<g id="e-B6"><circle class="r" cx="192" cy="167" r="11"/><text class="tw" x="192" y="171">2</text></g>
<g id="e-B7"><circle class="r" cx="227" cy="163" r="11"/><text class="tw" x="227" y="167">2</text></g>
<g id="e-B8"><circle class="x" cx="257" cy="154" r="11.5"/></g>
<g id="e-D1"><rect class="dg" x="-5.5" y="-5.5" width="11" height="11" transform="translate(70,52) rotate(-10)"/><text class="tg" x="70" y="55">3</text></g>
<g id="e-D2"><rect class="dk" x="-5.5" y="-5.5" width="11" height="11" transform="translate(103,62) rotate(40)"/><text class="td" x="103" y="65">2</text></g>
<g id="e-D3"><rect class="dk" x="-5.5" y="-5.5" width="11" height="11" transform="translate(135,65) rotate(45)"/><text class="td" x="135" y="68">3</text></g>
<g id="e-D4"><rect class="dk" x="-5.5" y="-5.5" width="11" height="11" transform="translate(167,61) rotate(-10)"/><text class="td" x="167" y="64">1</text></g>
<g id="e-D5"><rect class="dg" x="-5.5" y="-5.5" width="11" height="11" transform="translate(197,45) rotate(-25)"/><text class="tg" x="197" y="48">1</text></g>
<g id="e-D6"><rect class="dg" x="-5.5" y="-5.5" width="11" height="11" transform="translate(38,125) rotate(45)"/><text class="tg" x="38" y="128">3</text></g>
<g id="e-D7"><rect class="dk" x="-5.5" y="-5.5" width="11" height="11" transform="translate(61,133) rotate(45)"/><text class="td" x="61" y="136">1</text></g>
<g id="e-D8"><rect class="dk" x="-5.5" y="-5.5" width="11" height="11" transform="translate(86,137) rotate(45)"/><text class="td" x="86" y="140">1</text></g>
<g id="e-D9"><rect class="dk" x="-5.5" y="-5.5" width="11" height="11" transform="translate(110,139) rotate(45)"/><text class="td" x="110" y="142">1</text></g>
<g id="e-D10"><rect class="dk" x="-5.5" y="-5.5" width="11" height="11" transform="translate(130,139) rotate(45)"/><text class="td" x="130" y="142">1</text></g>
<g id="e-D11"><rect class="dk" x="-5.5" y="-5.5" width="11" height="11" transform="translate(153,137) rotate(45)"/><text class="td" x="153" y="140">2</text></g>
<g id="e-D12"><rect class="dk" x="-5.5" y="-5.5" width="11" height="11" transform="translate(175,136) rotate(45)"/><text class="td" x="175" y="139">1</text></g>
<g id="e-D13"><rect class="dk" x="-5.5" y="-5.5" width="11" height="11" transform="translate(199,135) rotate(45)"/><text class="td" x="199" y="138">1</text></g>
<g id="e-D14"><rect class="dk" x="-5.5" y="-5.5" width="11" height="11" transform="translate(222,129) rotate(45)"/><text class="td" x="222" y="132">2</text></g>
<g id="e-D15"><rect class="dg" x="-5.5" y="-5.5" width="11" height="11" transform="translate(247,121) rotate(45)"/><text class="tg" x="247" y="124">2</text></g>
</g>

<!-- PANEL F -->
<g id="panel-f" transform="translate(265,188)">
<text class="pl" x="11" y="25">f)</text>
<g id="f-connectors">
<line class="gd" x1="27" y1="57" x2="70" y2="52"/>
<line class="gd" x1="48" y1="87" x2="70" y2="52"/>
<line class="gc" x1="70" y1="52" x2="135" y2="27"/>
<line class="gd" x1="248" y1="39" x2="197" y2="45"/>
<line class="gd" x1="240" y1="71" x2="197" y2="45"/>
<line class="gc" x1="197" y1="45" x2="135" y2="27"/>
<line class="gd" x1="227" y1="163" x2="247" y2="121"/>
<line class="gd" x1="257" y1="154" x2="247" y2="121"/>
<line class="gc" x1="247" y1="121" x2="240" y2="71"/>
<line class="gd" x1="25" y1="154" x2="38" y2="125"/>
<line class="gd" x1="53" y1="164" x2="38" y2="125"/>
<line class="gc" x1="38" y1="125" x2="48" y2="87"/>
<line class="kd" x1="84" y1="96" x2="103" y2="62"/>
<line class="kd" x1="126" y1="98" x2="103" y2="62"/>
<line class="kc" x1="103" y1="62" x2="135" y2="27"/>
<line class="kd" x1="126" y1="98" x2="135" y2="65"/>
<line class="kc" x1="135" y1="65" x2="135" y2="27"/>
<line class="kd" x1="169" y1="97" x2="167" y2="61"/>
<line class="kd" x1="206" y1="88" x2="167" y2="61"/>
<line class="kc" x1="167" y1="61" x2="135" y2="27"/>
<line class="kd" x1="53" y1="164" x2="61" y2="133"/>
<line class="kd" x1="87" y1="171" x2="61" y2="133"/>
<line class="kc" x1="61" y1="133" x2="84" y2="96"/>
<line class="kd" x1="87" y1="171" x2="86" y2="137"/>
<line class="kc" x1="86" y1="137" x2="126" y2="98"/>
<line class="kd" x1="123" y1="171" x2="110" y2="139"/>
<line class="kc" x1="110" y1="139" x2="126" y2="98"/>
<line class="kd" x1="126" y1="98" x2="130" y2="139"/>
<line class="kc" x1="130" y1="139" x2="123" y2="171"/>
<line class="kd" x1="157" y1="171" x2="153" y2="137"/>
<line class="kc" x1="153" y1="137" x2="126" y2="98"/>
<line class="kd" x1="157" y1="171" x2="175" y2="136"/>
<line class="kc" x1="175" y1="136" x2="169" y2="97"/>
<line class="kd" x1="192" y1="167" x2="199" y2="135"/>
<line class="kc" x1="199" y1="135" x2="206" y2="88"/>
<line class="kd" x1="227" y1="163" x2="222" y2="129"/>
<line class="kc" x1="222" y1="129" x2="206" y2="88"/>
</g>
<g id="f-labels">
<text class="lb" x="110" y="46">?</text><text class="lb" x="142" y="55">?</text><text class="lb" x="161" y="45">17</text>
<text class="lb" x="62" y="116">11</text><text class="lb" x="95" y="119">5</text><text class="lb" x="108" y="128">?</text>
<text class="lb" x="134" y="158">?</text><text class="lb" x="150" y="118">?</text><text class="lb" x="179" y="120">3</text>
<text class="lb" x="198" y="118">5</text><text class="lb" x="223" y="110">6</text>
<text class="lr" x="147" y="78">+5</text><text class="lr" x="166" y="148">+5</text>
</g>
<g id="f-Y"><circle class="y" cx="135" cy="27" r="12"/><text class="tk" x="135" y="31">?</text></g>
<g id="f-P1"><circle class="x" cx="27" cy="57" r="11.5"/></g>
<g id="f-P2"><circle class="x" cx="48" cy="87" r="11.5"/></g>
<g id="f-P3"><circle class="p" cx="84" cy="96" r="11.5"/><text class="tk" x="84" y="100">11</text></g>
<g id="f-P4"><circle class="p" cx="126" cy="98" r="11.5"/><text class="tk" x="126" y="102">?</text></g>
<g id="f-P5"><circle class="p" cx="169" cy="97" r="11.5"/><text class="tk" x="169" y="101">3</text></g>
<g id="f-P6"><circle class="p" cx="206" cy="88" r="11.5"/><text class="tk" x="206" y="92">5</text></g>
<g id="f-P7"><circle class="x" cx="240" cy="71" r="11.5"/></g>
<g id="f-R5"><circle class="x" cx="248" cy="39" r="11"/><text class="tw" x="248" y="43">5</text></g>
<g id="f-B1"><circle class="x" cx="25" cy="154" r="10.5"/><text class="tw" x="25" y="158">1</text></g>
<g id="f-B2"><circle class="r" cx="53" cy="164" r="11"/><text class="tw" x="53" y="168">3</text></g>
<g id="f-B3"><circle class="r" cx="87" cy="171" r="11"/><text class="tw" x="87" y="175">2</text></g>
<g id="f-B4"><circle class="p" cx="123" cy="171" r="11.5"/><text class="tk" x="123" y="175">?</text></g>
<g id="f-B5"><circle class="r" cx="157" cy="171" r="11"/><text class="tw" x="157" y="175">1</text></g>
<g id="f-B6"><circle class="r" cx="192" cy="167" r="11"/><text class="tw" x="192" y="171">2</text></g>
<g id="f-B7"><circle class="r" cx="227" cy="163" r="11"/><text class="tw" x="227" y="167">2</text></g>
<g id="f-B8"><circle class="x" cx="257" cy="154" r="11.5"/></g>
<g id="f-D1"><rect class="dg" x="-5.5" y="-5.5" width="11" height="11" transform="translate(70,52) rotate(-10)"/><text class="tg" x="70" y="55">3</text></g>
<g id="f-D2"><rect class="dk" x="-5.5" y="-5.5" width="11" height="11" transform="translate(103,62) rotate(40)"/><text class="td" x="103" y="65">2</text></g>
<g id="f-D3"><rect class="dk" x="-5.5" y="-5.5" width="11" height="11" transform="translate(135,65) rotate(45)"/><text class="td" x="135" y="68">8</text></g>
<g id="f-D4"><rect class="dk" x="-5.5" y="-5.5" width="11" height="11" transform="translate(167,61) rotate(-10)"/><text class="td" x="167" y="64">1</text></g>
<g id="f-D5"><rect class="dg" x="-5.5" y="-5.5" width="11" height="11" transform="translate(197,45) rotate(-25)"/><text class="tg" x="197" y="48">1</text></g>
<g id="f-D6"><rect class="dg" x="-5.5" y="-5.5" width="11" height="11" transform="translate(38,125) rotate(45)"/><text class="tg" x="38" y="128">3</text></g>
<g id="f-D7"><rect class="dk" x="-5.5" y="-5.5" width="11" height="11" transform="translate(61,133) rotate(45)"/><text class="td" x="61" y="136">1</text></g>
<g id="f-D8"><rect class="dk" x="-5.5" y="-5.5" width="11" height="11" transform="translate(86,137) rotate(45)"/><text class="td" x="86" y="140">1</text></g>
<g id="f-D9"><rect class="dk" x="-5.5" y="-5.5" width="11" height="11" transform="translate(110,139) rotate(45)"/><text class="td" x="110" y="142">1</text></g>
<g id="f-D10"><rect class="dk" x="-5.5" y="-5.5" width="11" height="11" transform="translate(130,139) rotate(45)"/><text class="td" x="130" y="142">1</text></g>
<g id="f-D11"><rect class="dk" x="-5.5" y="-5.5" width="11" height="11" transform="translate(153,137) rotate(45)"/><text class="td" x="153" y="140">7</text></g>
<g id="f-D12"><rect class="dk" x="-5.5" y="-5.5" width="11" height="11" transform="translate(175,136) rotate(45)"/><text class="td" x="175" y="139">1</text></g>
<g id="f-D13"><rect class="dk" x="-5.5" y="-5.5" width="11" height="11" transform="translate(199,135) rotate(45)"/><text class="td" x="199" y="138">1</text></g>
<g id="f-D14"><rect class="dk" x="-5.5" y="-5.5" width="11" height="11" transform="translate(222,129) rotate(45)"/><text class="td" x="222" y="132">2</text></g>
<g id="f-D15"><rect class="dg" x="-5.5" y="-5.5" width="11" height="11" transform="translate(247,121) rotate(45)"/><text class="tg" x="247" y="124">2</text></g>
</g>

<!-- PANEL G -->
<g id="panel-g" transform="translate(532,188)">
<text class="pl" x="10" y="25">g)</text>
<g id="g-connectors">
<line class="gd" x1="27" y1="57" x2="70" y2="52"/>
<line class="gd" x1="48" y1="87" x2="70" y2="52"/>
<line class="gc" x1="70" y1="52" x2="135" y2="27"/>
<line class="gd" x1="248" y1="39" x2="197" y2="45"/>
<line class="gd" x1="240" y1="71" x2="197" y2="45"/>
<line class="gc" x1="197" y1="45" x2="135" y2="27"/>
<line class="gd" x1="227" y1="163" x2="247" y2="121"/>
<line class="gd" x1="257" y1="154" x2="247" y2="121"/>
<line class="gc" x1="247" y1="121" x2="240" y2="71"/>
<line class="gd" x1="25" y1="154" x2="38" y2="125"/>
<line class="gd" x1="53" y1="164" x2="38" y2="125"/>
<line class="gc" x1="38" y1="125" x2="48" y2="87"/>
<line class="kd" x1="84" y1="96" x2="103" y2="62"/>
<line class="kd" x1="126" y1="98" x2="103" y2="62"/>
<line class="kc" x1="103" y1="62" x2="135" y2="27"/>
<line class="kd" x1="126" y1="98" x2="135" y2="65"/>
<line class="kc" x1="135" y1="65" x2="135" y2="27"/>
<line class="kd" x1="169" y1="97" x2="167" y2="61"/>
<line class="kd" x1="206" y1="88" x2="167" y2="61"/>
<line class="kc" x1="167" y1="61" x2="135" y2="27"/>
<line class="kd" x1="53" y1="164" x2="61" y2="133"/>
<line class="kd" x1="87" y1="171" x2="61" y2="133"/>
<line class="kc" x1="61" y1="133" x2="84" y2="96"/>
<line class="kd" x1="87" y1="171" x2="86" y2="137"/>
<line class="kc" x1="86" y1="137" x2="126" y2="98"/>
<line class="kd" x1="123" y1="171" x2="110" y2="139"/>
<line class="kc" x1="110" y1="139" x2="126" y2="98"/>
<line class="kd" x1="126" y1="98" x2="130" y2="139"/>
<line class="kc" x1="130" y1="139" x2="123" y2="171"/>
<line class="kd" x1="157" y1="171" x2="153" y2="137"/>
<line class="kc" x1="153" y1="137" x2="126" y2="98"/>
<line class="kd" x1="157" y1="171" x2="175" y2="136"/>
<line class="kc" x1="175" y1="136" x2="169" y2="97"/>
<line class="kd" x1="192" y1="167" x2="199" y2="135"/>
<line class="kc" x1="199" y1="135" x2="206" y2="88"/>
<line class="kd" x1="227" y1="163" x2="222" y2="129"/>
<line class="kc" x1="222" y1="129" x2="206" y2="88"/>
</g>
<g id="g-labels">
<text class="lb" x="108" y="46">34</text><text class="lb" x="144" y="55">18</text><text class="lb" x="161" y="45">17</text>
<text class="lb" x="62" y="116">11</text><text class="lb" x="95" y="119">5</text><text class="lb" x="105" y="128">23</text>
<text class="lb" x="137" y="160">11</text><text class="lb" x="148" y="118">9</text><text class="lb" x="179" y="120">3</text>
<text class="lb" x="198" y="118">5</text><text class="lb" x="223" y="110">6</text>
</g>
<g id="g-Y"><circle class="y" cx="135" cy="27" r="12"/><text class="tk" x="135" y="31">17</text></g>
<g id="g-P1"><circle class="x" cx="27" cy="57" r="11.5"/></g>
<g id="g-P2"><circle class="x" cx="48" cy="87" r="11.5"/></g>
<g id="g-P3"><circle class="p" cx="84" cy="96" r="11.5"/><text class="tk" x="84" y="100">11</text></g>
<g id="g-P4"><circle class="p" cx="126" cy="98" r="11.5"/><text class="tk" x="126" y="102">5</text></g>
<g id="g-P5"><circle class="p" cx="169" cy="97" r="11.5"/><text class="tk" x="169" y="101">3</text></g>
<g id="g-P6"><circle class="p" cx="206" cy="88" r="11.5"/><text class="tk" x="206" y="92">5</text></g>
<g id="g-P7"><circle class="x" cx="240" cy="71" r="11.5"/></g>
<g id="g-R5"><circle class="x" cx="248" cy="39" r="11"/><text class="tw" x="248" y="43">5</text></g>
<g id="g-B1"><circle class="x" cx="25" cy="154" r="10.5"/><text class="tw" x="25" y="158">1</text></g>
<g id="g-B2"><circle class="r" cx="53" cy="164" r="11"/><text class="tw" x="53" y="168">3</text></g>
<g id="g-B3"><circle class="r" cx="87" cy="171" r="11"/><text class="tw" x="87" y="175">2</text></g>
<g id="g-B4"><circle class="p" cx="123" cy="171" r="11.5"/><text class="tk" x="123" y="175">11</text></g>
<g id="g-B5"><circle class="r" cx="157" cy="171" r="11"/><text class="tw" x="157" y="175">1</text></g>
<g id="g-B6"><circle class="r" cx="192" cy="167" r="11"/><text class="tw" x="192" y="171">2</text></g>
<g id="g-B7"><circle class="r" cx="227" cy="163" r="11"/><text class="tw" x="227" y="167">2</text></g>
<g id="g-B8"><circle class="x" cx="257" cy="154" r="11.5"/></g>
<g id="g-D1"><rect class="dg" x="-5.5" y="-5.5" width="11" height="11" transform="translate(70,52) rotate(-10)"/><text class="tg" x="70" y="55">3</text></g>
<g id="g-D2"><rect class="dk" x="-5.5" y="-5.5" width="11" height="11" transform="translate(103,62) rotate(40)"/><text class="td" x="103" y="65">2</text></g>
<g id="g-D3"><rect class="dk" x="-5.5" y="-5.5" width="11" height="11" transform="translate(135,65) rotate(45)"/><text class="td" x="135" y="68">8</text></g>
<g id="g-D4"><rect class="dk" x="-5.5" y="-5.5" width="11" height="11" transform="translate(167,61) rotate(-10)"/><text class="td" x="167" y="64">1</text></g>
<g id="g-D5"><rect class="dg" x="-5.5" y="-5.5" width="11" height="11" transform="translate(197,45) rotate(-25)"/><text class="tg" x="197" y="48">1</text></g>
<g id="g-D6"><rect class="dg" x="-5.5" y="-5.5" width="11" height="11" transform="translate(38,125) rotate(45)"/><text class="tg" x="38" y="128">3</text></g>
<g id="g-D7"><rect class="dk" x="-5.5" y="-5.5" width="11" height="11" transform="translate(61,133) rotate(45)"/><text class="td" x="61" y="136">1</text></g>
<g id="g-D8"><rect class="dk" x="-5.5" y="-5.5" width="11" height="11" transform="translate(86,137) rotate(45)"/><text class="td" x="86" y="140">1</text></g>
<g id="g-D9"><rect class="dk" x="-5.5" y="-5.5" width="11" height="11" transform="translate(110,139) rotate(45)"/><text class="td" x="110" y="142">1</text></g>
<g id="g-D10"><rect class="dk" x="-5.5" y="-5.5" width="11" height="11" transform="translate(130,139) rotate(45)"/><text class="td" x="130" y="142">1</text></g>
<g id="g-D11"><rect class="dk" x="-5.5" y="-5.5" width="11" height="11" transform="translate(153,137) rotate(45)"/><text class="td" x="153" y="140">7</text></g>
<g id="g-D12"><rect class="dk" x="-5.5" y="-5.5" width="11" height="11" transform="translate(175,136) rotate(45)"/><text class="td" x="175" y="139">1</text></g>
<g id="g-D13"><rect class="dk" x="-5.5" y="-5.5" width="11" height="11" transform="translate(199,135) rotate(45)"/><text class="td" x="199" y="138">1</text></g>
<g id="g-D14"><rect class="dk" x="-5.5" y="-5.5" width="11" height="11" transform="translate(222,129) rotate(45)"/><text class="td" x="222" y="132">2</text></g>
<g id="g-D15"><rect class="dg" x="-5.5" y="-5.5" width="11" height="11" transform="translate(247,121) rotate(45)"/><text class="tg" x="247" y="124">2</text></g>
</g>

<!-- PANEL H -->
<g id="panel-h" transform="translate(798,188)">
<text class="pl" x="9" y="25">h)</text>
<g id="h-connectors">
<line class="gd" x1="27" y1="57" x2="70" y2="52"/>
<line class="gd" x1="48" y1="87" x2="70" y2="52"/>
<line class="gc" x1="70" y1="52" x2="135" y2="27"/>
<line class="gd" x1="248" y1="39" x2="197" y2="45"/>
<line class="gd" x1="240" y1="71" x2="197" y2="45"/>
<line class="gc" x1="197" y1="45" x2="135" y2="27"/>
<line class="gd" x1="227" y1="163" x2="247" y2="121"/>
<line class="gd" x1="257" y1="154" x2="247" y2="121"/>
<line class="gc" x1="247" y1="121" x2="240" y2="71"/>
<line class="gd" x1="25" y1="154" x2="38" y2="125"/>
<line class="gd" x1="53" y1="164" x2="38" y2="125"/>
<line class="gc" x1="38" y1="125" x2="48" y2="87"/>
<line class="kd" x1="84" y1="96" x2="103" y2="62"/>
<line class="kd" x1="126" y1="98" x2="103" y2="62"/>
<line class="kc" x1="103" y1="62" x2="135" y2="27"/>
<line class="kd" x1="126" y1="98" x2="135" y2="65"/>
<line class="kc" x1="135" y1="65" x2="135" y2="27"/>
<line class="kd" x1="53" y1="164" x2="61" y2="133"/>
<line class="kd" x1="87" y1="171" x2="61" y2="133"/>
<line class="kc" x1="61" y1="133" x2="84" y2="96"/>
<line class="kd" x1="87" y1="171" x2="86" y2="137"/>
<line class="kc" x1="86" y1="137" x2="126" y2="98"/>
<line class="kd" x1="123" y1="171" x2="110" y2="139"/>
<line class="kc" x1="110" y1="139" x2="126" y2="98"/>
<line class="kd" x1="126" y1="98" x2="130" y2="139"/>
<line class="kc" x1="130" y1="139" x2="123" y2="171"/>
<line class="kd" x1="157" y1="171" x2="153" y2="137"/>
<line class="kc" x1="153" y1="137" x2="126" y2="98"/>
<line class="kd" x1="227" y1="163" x2="222" y2="129"/>
<line class="kc" x1="222" y1="129" x2="206" y2="88"/>
<line class="vd" x1="169" y1="97" x2="167" y2="61"/>
<line class="vd" x1="206" y1="88" x2="167" y2="61"/>
<line class="vc" x1="167" y1="61" x2="135" y2="27"/>
<line class="vd" x1="157" y1="171" x2="175" y2="136"/>
<line class="vc" x1="175" y1="136" x2="169" y2="97"/>
<line class="vd" x1="192" y1="167" x2="199" y2="135"/>
<line class="vc" x1="199" y1="135" x2="206" y2="88"/>
</g>
<g id="h-labels">
<text class="lb" x="108" y="46">34</text><text class="lb" x="144" y="55">18</text><text class="lb" x="161" y="45">17</text>
<text class="lb" x="62" y="116">11</text><text class="lb" x="95" y="119">5</text><text class="lb" x="105" y="128">23</text>
<text class="lb" x="137" y="160">11</text><text class="lb" x="148" y="118">9</text><text class="lb" x="179" y="120">3</text>
<text class="lb" x="198" y="118">5</text><text class="lb" x="223" y="110">6</text>
</g>
<g id="h-Y"><circle class="y" cx="135" cy="27" r="12"/><text class="tk" x="135" y="31">17</text></g>
<g id="h-P1"><circle class="x" cx="27" cy="57" r="11.5"/></g>
<g id="h-P2"><circle class="x" cx="48" cy="87" r="11.5"/></g>
<g id="h-P3"><circle class="p" cx="84" cy="96" r="11.5"/><text class="tk" x="84" y="100">11</text></g>
<g id="h-P4"><circle class="p" cx="126" cy="98" r="11.5"/><text class="tk" x="126" y="102">5</text></g>
<g id="h-P5"><circle class="p" cx="169" cy="97" r="11.5"/><text class="tk" x="169" y="101">3</text></g>
<g id="h-P6"><circle class="p" cx="206" cy="88" r="11.5"/><text class="tk" x="206" y="92">5</text></g>
<g id="h-P7"><circle class="x" cx="240" cy="71" r="11.5"/></g>
<g id="h-R5"><circle class="x" cx="248" cy="39" r="11"/><text class="tw" x="248" y="43">5</text></g>
<g id="h-B1"><circle class="x" cx="25" cy="154" r="10.5"/><text class="tw" x="25" y="158">1</text></g>
<g id="h-B2"><circle class="r" cx="53" cy="164" r="11"/><text class="tw" x="53" y="168">3</text></g>
<g id="h-B3"><circle class="r" cx="87" cy="171" r="11"/><text class="tw" x="87" y="175">2</text></g>
<g id="h-B4"><circle class="p" cx="123" cy="171" r="11.5"/><text class="tk" x="123" y="175">11</text></g>
<g id="h-B5"><circle class="r" cx="157" cy="171" r="11"/><text class="tw" x="157" y="175">1</text></g>
<g id="h-B6"><circle class="r" cx="192" cy="167" r="11"/><text class="tw" x="192" y="171">2</text></g>
<g id="h-B7"><circle class="r" cx="227" cy="163" r="11"/><text class="tw" x="227" y="167">2</text></g>
<g id="h-B8"><circle class="x" cx="257" cy="154" r="11.5"/></g>
<g id="h-D1"><rect class="dg" x="-5.5" y="-5.5" width="11" height="11" transform="translate(70,52) rotate(-10)"/><text class="tg" x="70" y="55">3</text></g>
<g id="h-D2"><rect class="dk" x="-5.5" y="-5.5" width="11" height="11" transform="translate(103,62) rotate(40)"/><text class="td" x="103" y="65">2</text></g>
<g id="h-D3"><rect class="dk" x="-5.5" y="-5.5" width="11" height="11" transform="translate(135,65) rotate(45)"/><text class="td" x="135" y="68">8</text></g>
<g id="h-D4"><rect class="dk" x="-5.5" y="-5.5" width="11" height="11" transform="translate(167,61) rotate(-10)"/><text class="td" x="167" y="64">1</text></g>
<g id="h-D5"><rect class="dg" x="-5.5" y="-5.5" width="11" height="11" transform="translate(197,45) rotate(-25)"/><text class="tg" x="197" y="48">1</text></g>
<g id="h-D6"><rect class="dg" x="-5.5" y="-5.5" width="11" height="11" transform="translate(38,125) rotate(45)"/><text class="tg" x="38" y="128">3</text></g>
<g id="h-D7"><rect class="dk" x="-5.5" y="-5.5" width="11" height="11" transform="translate(61,133) rotate(45)"/><text class="td" x="61" y="136">1</text></g>
<g id="h-D8"><rect class="dk" x="-5.5" y="-5.5" width="11" height="11" transform="translate(86,137) rotate(45)"/><text class="td" x="86" y="140">1</text></g>
<g id="h-D9"><rect class="dk" x="-5.5" y="-5.5" width="11" height="11" transform="translate(110,139) rotate(45)"/><text class="td" x="110" y="142">1</text></g>
<g id="h-D10"><rect class="dk" x="-5.5" y="-5.5" width="11" height="11" transform="translate(130,139) rotate(45)"/><text class="td" x="130" y="142">1</text></g>
<g id="h-D11"><rect class="dk" x="-5.5" y="-5.5" width="11" height="11" transform="translate(153,137) rotate(45)"/><text class="td" x="153" y="140">7</text></g>
<g id="h-D12"><rect class="dk" x="-5.5" y="-5.5" width="11" height="11" transform="translate(175,136) rotate(45)"/><text class="td" x="175" y="139">1</text></g>
<g id="h-D13"><rect class="dk" x="-5.5" y="-5.5" width="11" height="11" transform="translate(199,135) rotate(45)"/><text class="td" x="199" y="138">1</text></g>
<g id="h-D14"><rect class="dk" x="-5.5" y="-5.5" width="11" height="11" transform="translate(222,129) rotate(45)"/><text class="td" x="222" y="132">2</text></g>
<g id="h-D15"><rect class="dg" x="-5.5" y="-5.5" width="11" height="11" transform="translate(247,121) rotate(45)"/><text class="tg" x="247" y="124">2</text></g>
</g>
</svg>
